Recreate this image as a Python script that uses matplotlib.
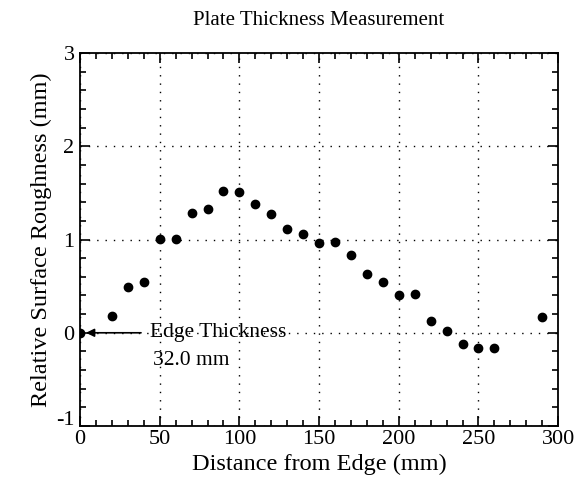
import matplotlib
matplotlib.use("Agg")
import matplotlib.pyplot as plt
import matplotlib.transforms as mtransforms
from matplotlib.ticker import MultipleLocator

distance = [0, 20, 30, 40, 50, 60, 70, 80, 90, 100, 110, 120, 130, 140,
            150, 160, 170, 180, 190, 200, 210, 220, 230, 240, 250, 260, 290]
roughness = [0.0, 0.18, 0.49, 0.55, 1.01, 1.01, 1.29, 1.33, 1.52, 1.51, 1.38,
             1.27, 1.11, 1.06, 0.96, 0.97, 0.83, 0.63, 0.54, 0.40, 0.42, 0.13,
             0.02, -0.12, -0.16, -0.16, 0.17]

plt.rcParams['font.family'] = ['Liberation Serif', 'DejaVu Serif']
plt.rcParams['axes.unicode_minus'] = False

fig = plt.figure(figsize=(5.76, 4.83), dpi=100)
ax = fig.add_axes([0.139, 0.118, 0.830, 0.772])

ax.plot(distance, roughness, 'o', color='black', markersize=6, zorder=3)

ax.set_xlim(0, 300)
ax.set_ylim(-1, 3)
ax.xaxis.set_major_locator(MultipleLocator(50))
ax.xaxis.set_minor_locator(MultipleLocator(10))
ax.yaxis.set_major_locator(MultipleLocator(1))
ax.yaxis.set_minor_locator(MultipleLocator(0.2))
ax.tick_params(which='both', direction='in', top=True, right=True, labelsize=16, width=1.2)
ax.tick_params(which='major', length=7)
ax.tick_params(axis='x', which='major', pad=3)
ax.tick_params(axis='y', which='major', pad=4)
ax.tick_params(which='minor', length=4)
ax.grid(True, which='major', linestyle=(0, (1, 5)), color='black', linewidth=1)
for s in ax.spines.values():
    s.set_linewidth(1.3)

ax.set_xlabel("Distance from Edge (mm)", fontsize=17.5, labelpad=3)
ax.set_ylabel("Relative Surface Roughness (mm)", fontsize=17.5, labelpad=3)
ax.set_title("Plate Thickness Measurement", fontsize=15, pad=20)

ax.annotate("", xy=(2, 0), xytext=(40, 0),
            arrowprops=dict(arrowstyle='-|>', color='black', lw=1.2, mutation_scale=12))
ax.text(44, 0, "Edge Thickness", fontsize=15.5, va='center', ha='left')
ax.text(46, -0.3, "32.0 mm", fontsize=15.5, va='center', ha='left')

# lift the bottom y label a little so it clears the x "0"
fig.canvas.draw()
lift = mtransforms.ScaledTranslation(0, 6 / 72, fig.dpi_scale_trans)
for lab in ax.get_yticklabels():
    if lab.get_text() == '-1':
        lab.set_transform(lab.get_transform() + lift)

fig.savefig("out.png", dpi=100)
